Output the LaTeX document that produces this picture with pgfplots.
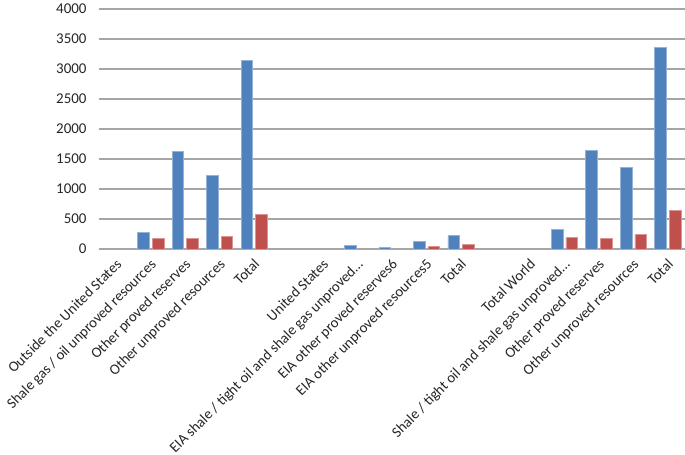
\documentclass[border=0pt]{standalone}
\usepackage{pgfplots}
\pgfplotsset{compat=1.18}
\usepackage{fontspec}
\setmainfont{Carlito}
\definecolor{barblue}{HTML}{4F81BD}
\definecolor{barred}{HTML}{C0504D}
\definecolor{gridgray}{HTML}{A6A6A6}
\begin{document}
\begin{tikzpicture}
\useasboundingbox (-99bp,-206bp) rectangle (586bp,249bp);
\begin{axis}[
  at={(0,0)}, anchor=south west,
  scale only axis,
  width=586bp, height=240bp,
  xmin=-0.5, xmax=16.5,
  ymin=0, ymax=4000,
  ytick={0,500,...,4000},
  xtick={0,...,16},
  xticklabels={Outside the United States,Shale gas / oil unproved resources,Other proved reserves,Other unproved resources,Total,,United States,EIA shale / tight oil and shale gas unproved…,EIA other proved reserves6,EIA other unproved resources5,Total,,Total World,Shale / tight oil and shale gas unproved…,Other proved reserves,Other unproved resources,Total},
  x tick label style={rotate=45, anchor=north east, inner sep=1bp, yshift=-4.5bp, xshift=-6bp, font=\fontsize{14.8}{17}\selectfont},
  y tick label style={xshift=-9bp, font=\fontsize{15}{17}\selectfont},
  tick label style={text=black!85},
  /pgf/number format/assume math mode=true,
  /pgf/number format/1000 sep={},
  major tick length=0pt,
  axis line style={draw=none},
  axis x line*=bottom,
  ymajorgrids,
  grid style={gridgray, line width=1.3bp},
  ybar=3bp,
  bar width=11.6bp,
  extra y ticks={0},
  extra y tick labels={},
  extra y tick style={grid style={gridgray, line width=1.3bp}},
]
\addplot[fill=barblue, draw=barblue!60!white, line width=0.5bp] coordinates {
 (1,283) (2,1622) (3,1233) (4,3140)
 (7,56) (8,22) (9,133) (10,222)
 (13,330) (14,1640) (15,1361) (16,3356)
};
\addplot[fill=barred, draw=barred!60!white, line width=0.5bp] coordinates {
 (1,183) (2,178) (3,206) (4,583)
 (7,0) (8,0) (9,39) (10,72)
 (13,190) (14,178) (15,240) (16,641)
};
\end{axis}
\end{tikzpicture}
\end{document}
